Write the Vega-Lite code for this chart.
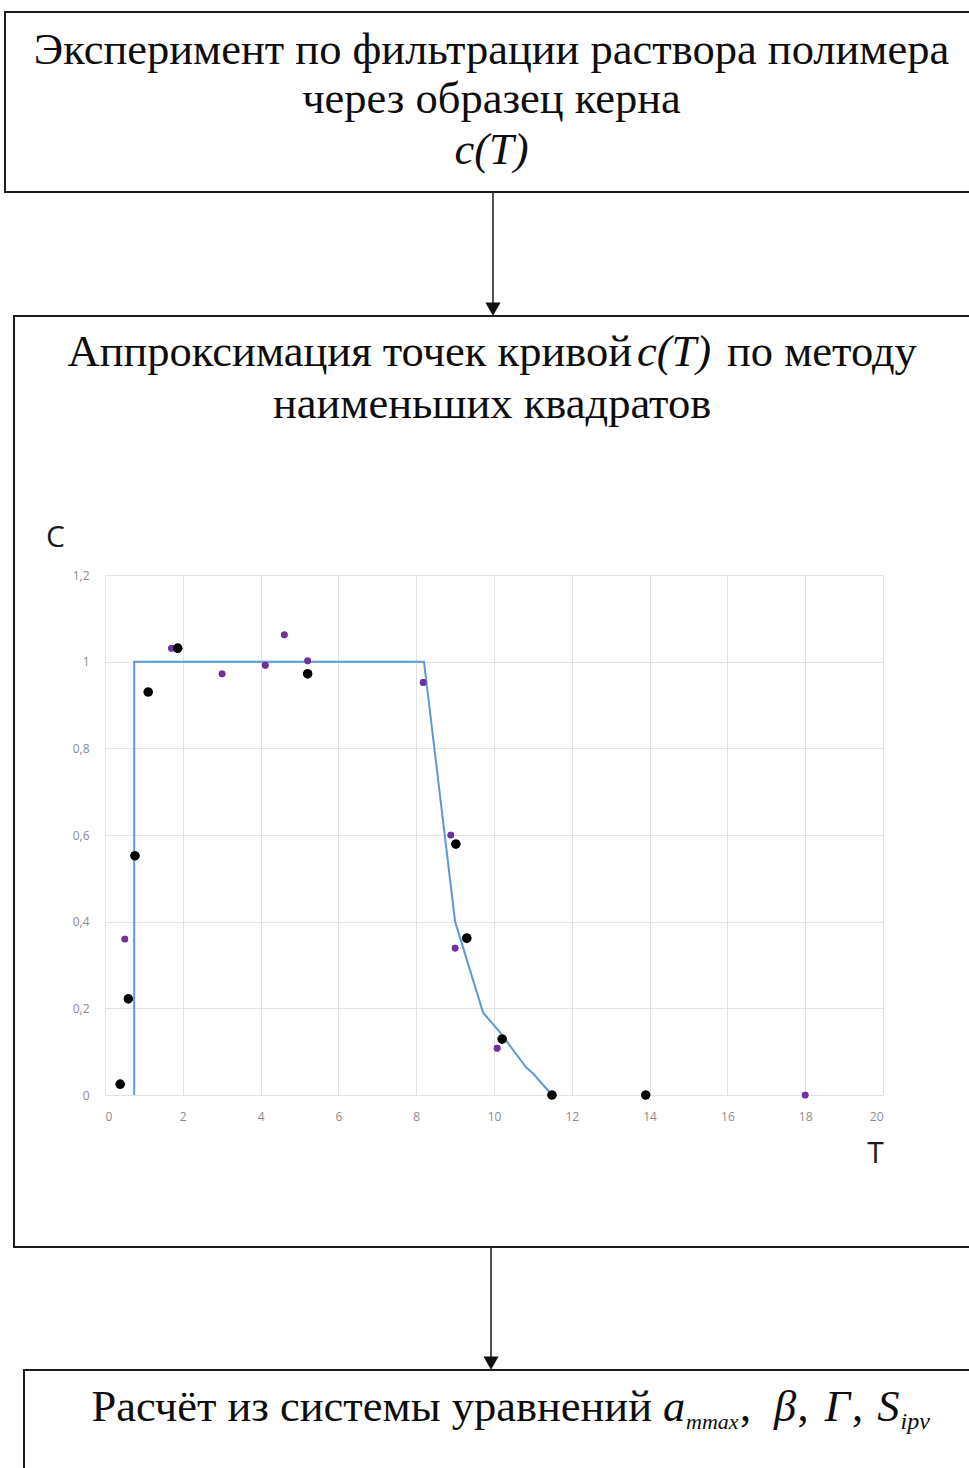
{
  "$schema": "https://vega.github.io/schema/vega-lite/v6.json",
  "width": 778,
  "height": 520,
  "autosize": {"type": "none"},
  "padding": {"left": 105, "top": 575, "right": 86, "bottom": 373},
  "background": "white",
  "config": {
    "view": {"stroke": null},
    "axis": {
      "grid": true,
      "gridColor": "#e3e3e3",
      "gridWidth": 1,
      "domain": false,
      "ticks": false,
      "labelFont": "Open Sans",
      "labelFontSize": 12,
      "labelColor": "#8c8c8c",
      "titleFont": "Open Sans",
      "titleFontWeight": "normal",
      "titleFontSize": 30,
      "titleColor": "#1a1a1a"
    },
    "text": {"font": "Liberation Serif", "fontSize": 44.5, "color": "#0d0d0d", "baseline": "alphabetic"}
  },
  "datasets": {
    "points": [
      {"T": 0.51, "C": 0.36, "series": "B"},
      {"T": 1.71, "C": 1.031, "series": "B"},
      {"T": 3.01, "C": 0.972, "series": "B"},
      {"T": 4.12, "C": 0.992, "series": "B"},
      {"T": 4.61, "C": 1.062, "series": "B"},
      {"T": 5.21, "C": 1.002, "series": "B"},
      {"T": 8.18, "C": 0.952, "series": "B"},
      {"T": 8.89, "C": 0.6, "series": "B"},
      {"T": 9.0, "C": 0.339, "series": "B"},
      {"T": 10.08, "C": 0.108, "series": "B"},
      {"T": 18.0, "C": 0, "series": "B"},
      {"T": 0.39, "C": 0.025, "series": "A"},
      {"T": 0.6, "C": 0.222, "series": "A"},
      {"T": 0.77, "C": 0.552, "series": "A"},
      {"T": 1.11, "C": 0.93, "series": "A"},
      {"T": 1.87, "C": 1.031, "series": "A"},
      {"T": 5.21, "C": 0.972, "series": "A"},
      {"T": 9.02, "C": 0.579, "series": "A"},
      {"T": 9.3, "C": 0.362, "series": "A"},
      {"T": 10.21, "C": 0.129, "series": "A"},
      {"T": 11.49, "C": 0, "series": "A"},
      {"T": 13.9, "C": 0, "series": "A"}
    ],
    "fit": [
      {"T": 0.75, "C": 0},
      {"T": 0.75, "C": 1.0},
      {"T": 8.2, "C": 1.0},
      {"T": 9.0, "C": 0.4},
      {"T": 9.72, "C": 0.19},
      {"T": 10.15, "C": 0.145},
      {"T": 10.84, "C": 0.062},
      {"T": 11.0, "C": 0.05},
      {"T": 11.49, "C": 0}
    ],
    "one": [{}]
  },
  "layer": [
    {
      "data": {"name": "points"},
      "mark": {"type": "point", "filled": true, "opacity": 1},
      "encoding": {
        "x": {
          "field": "T", "type": "quantitative",
          "scale": {"domain": [0, 20], "nice": false, "zero": false},
          "axis": {
            "values": [0, 2, 4, 6, 8, 10, 12, 14, 16, 18, 20],
            "title": "T",
            "labelPadding": 16,
            "titleX": 770, "titleY": 58,
            "titleAlign": "center", "titleBaseline": "middle", "titleAngle": 0
          }
        },
        "y": {
          "field": "C", "type": "quantitative",
          "scale": {"domain": [0, 1.2], "nice": false, "zero": false},
          "axis": {
            "values": [0, 0.2, 0.4, 0.6, 0.8, 1, 1.2],
            "labelExpr": "replace(format(datum.value, '~g'), '.', ',')",
            "title": "C",
            "labelPadding": 16,
            "titleAngle": 0,
            "titleX": -50, "titleY": -38,
            "titleAlign": "center", "titleBaseline": "middle"
          }
        },
        "color": {"field": "series", "type": "nominal", "scale": {"domain": ["A", "B"], "range": ["#000000", "#7030A0"]}, "legend": null},
        "size": {"field": "series", "type": "nominal", "scale": {"domain": ["A", "B"], "range": [85, 45]}, "legend": null}
      }
    },
    {
      "data": {"name": "fit"},
      "mark": {"type": "line", "color": "#5B9BD5", "strokeWidth": 2},
      "encoding": {
        "x": {"field": "T", "type": "quantitative"},
        "y": {"field": "C", "type": "quantitative"},
        "order": {"value": null}
      }
    },
    {
      "data": {"name": "points"},
      "transform": [{"filter": "datum.series === 'B'"}],
      "mark": {"type": "point", "filled": true, "opacity": 1, "color": "#7030A0", "size": 45},
      "encoding": {
        "x": {"field": "T", "type": "quantitative"},
        "y": {"field": "C", "type": "quantitative"}
      }
    },
    {
      "data": {"name": "points"},
      "transform": [{"filter": "datum.series === 'A'"}],
      "mark": {"type": "point", "filled": true, "opacity": 1, "color": "#000000", "size": 85},
      "encoding": {
        "x": {"field": "T", "type": "quantitative"},
        "y": {"field": "C", "type": "quantitative"}
      }
    },
    {
      "data": {"name": "one"},
      "mark": {"type": "rect", "filled": false, "color": "#1c1c1c", "strokeWidth": 2, "clip": false},
      "encoding": {
        "x": {"datum": -2.571, "type": "quantitative"}, "x2": {"datum": 22.6},
        "y": {"datum": 2.4993, "type": "quantitative"}, "y2": {"datum": 2.0839}
      }
    },
    {
      "data": {"name": "one"},
      "mark": {"type": "rect", "filled": false, "color": "#1c1c1c", "strokeWidth": 2, "clip": false},
      "encoding": {
        "x": {"datum": -2.339, "type": "quantitative"}, "x2": {"datum": 22.6},
        "y": {"datum": 1.7977, "type": "quantitative"}, "y2": {"datum": -0.3508}
      }
    },
    {
      "data": {"name": "one"},
      "mark": {"type": "rect", "filled": false, "color": "#1c1c1c", "strokeWidth": 2, "clip": false},
      "encoding": {
        "x": {"datum": -2.082, "type": "quantitative"}, "x2": {"datum": 22.6},
        "y": {"datum": -0.6346, "type": "quantitative"}, "y2": {"datum": -0.95}
      }
    },
    {
      "data": {"name": "one"},
      "mark": {"type": "rule", "color": "#2a2a2a", "strokeWidth": 1.6, "clip": false},
      "encoding": {
        "x": {"datum": 9.974, "type": "quantitative"},
        "y": {"datum": 2.0839, "type": "quantitative"}, "y2": {"datum": 1.8116}
      }
    },
    {
      "data": {"name": "one"},
      "mark": {"type": "rule", "color": "#2a2a2a", "strokeWidth": 1.6, "clip": false},
      "encoding": {
        "x": {"datum": 9.923, "type": "quantitative"},
        "y": {"datum": -0.3508, "type": "quantitative"}, "y2": {"datum": -0.6208}
      }
    },
    {
      "data": {"name": "one"},
      "mark": {"type": "point", "shape": "triangle-down", "filled": true, "opacity": 1, "color": "#111111", "size": 230, "clip": false},
      "encoding": {
        "x": {"datum": 9.974, "type": "quantitative"},
        "y": {"datum": 1.8137, "type": "quantitative"}
      }
    },
    {
      "data": {"name": "one"},
      "mark": {"type": "point", "shape": "triangle-down", "filled": true, "opacity": 1, "color": "#111111", "size": 230, "clip": false},
      "encoding": {
        "x": {"datum": 9.923, "type": "quantitative"},
        "y": {"datum": -0.6187, "type": "quantitative"}
      }
    },
    {
      "data": {"name": "one"},
      "mark": {"type": "text", "text": "Эксперимент по фильтрации раствора полимера", "align": "center", "clip": false},
      "encoding": {"x": {"datum": 9.936, "type": "quantitative"}, "y": {"datum": 2.3792, "type": "quantitative"}}
    },
    {
      "data": {"name": "one"},
      "mark": {"type": "text", "text": "через образец керна", "align": "center", "clip": false},
      "encoding": {"x": {"datum": 9.936, "type": "quantitative"}, "y": {"datum": 2.2662, "type": "quantitative"}}
    },
    {
      "data": {"name": "one"},
      "mark": {"type": "text", "text": "c(T)", "fontStyle": "italic", "align": "center", "clip": false},
      "encoding": {"x": {"datum": 9.936, "type": "quantitative"}, "y": {"datum": 2.1485, "type": "quantitative"}}
    },
    {
      "data": {"name": "one"},
      "mark": {"type": "text", "text": "Аппроксимация точек кривой", "align": "right", "clip": false},
      "encoding": {"x": {"datum": 13.548, "type": "quantitative"}, "y": {"datum": 1.6823, "type": "quantitative"}}
    },
    {
      "data": {"name": "one"},
      "mark": {"type": "text", "text": "c(T)", "fontStyle": "italic", "align": "left", "clip": false},
      "encoding": {"x": {"datum": 13.676, "type": "quantitative"}, "y": {"datum": 1.6823, "type": "quantitative"}}
    },
    {
      "data": {"name": "one"},
      "mark": {"type": "text", "text": "по методу", "align": "left", "clip": false},
      "encoding": {"x": {"datum": 15.99, "type": "quantitative"}, "y": {"datum": 1.6823, "type": "quantitative"}}
    },
    {
      "data": {"name": "one"},
      "mark": {"type": "text", "text": "наименьших квадратов", "align": "center", "clip": false},
      "encoding": {"x": {"datum": 9.949, "type": "quantitative"}, "y": {"datum": 1.5623, "type": "quantitative"}}
    },
    {
      "data": {"name": "one"},
      "mark": {"type": "text", "text": "Расчёт из системы уравнений", "align": "right", "clip": false},
      "encoding": {"x": {"datum": 14.062, "type": "quantitative"}, "y": {"datum": -0.7523, "type": "quantitative"}}
    },
    {
      "data": {"name": "one"},
      "mark": {"type": "text", "text": "a", "fontStyle": "italic", "align": "left", "clip": false},
      "encoding": {"x": {"datum": 14.344, "type": "quantitative"}, "y": {"datum": -0.7523, "type": "quantitative"}}
    },
    {
      "data": {"name": "one"},
      "mark": {"type": "text", "text": "mmax", "fontStyle": "italic", "fontSize": 22, "align": "left", "clip": false},
      "encoding": {"x": {"datum": 14.936, "type": "quantitative"}, "y": {"datum": -0.7708, "type": "quantitative"}}
    },
    {
      "data": {"name": "one"},
      "mark": {"type": "text", "text": ",", "align": "left", "clip": false},
      "encoding": {"x": {"datum": 16.324, "type": "quantitative"}, "y": {"datum": -0.7523, "type": "quantitative"}}
    },
    {
      "data": {"name": "one"},
      "mark": {"type": "text", "text": "β", "fontStyle": "italic", "align": "left", "clip": false},
      "encoding": {"x": {"datum": 17.2, "type": "quantitative"}, "y": {"datum": -0.7523, "type": "quantitative"}}
    },
    {
      "data": {"name": "one"},
      "mark": {"type": "text", "text": ",", "align": "left", "clip": false},
      "encoding": {"x": {"datum": 17.8, "type": "quantitative"}, "y": {"datum": -0.7523, "type": "quantitative"}}
    },
    {
      "data": {"name": "one"},
      "mark": {"type": "text", "text": "Γ", "fontStyle": "italic", "align": "left", "clip": false},
      "encoding": {"x": {"datum": 18.5, "type": "quantitative"}, "y": {"datum": -0.7523, "type": "quantitative"}}
    },
    {
      "data": {"name": "one"},
      "mark": {"type": "text", "text": ",", "align": "left", "clip": false},
      "encoding": {"x": {"datum": 19.2, "type": "quantitative"}, "y": {"datum": -0.7523, "type": "quantitative"}}
    },
    {
      "data": {"name": "one"},
      "mark": {"type": "text", "text": "S", "fontStyle": "italic", "align": "left", "clip": false},
      "encoding": {"x": {"datum": 19.85, "type": "quantitative"}, "y": {"datum": -0.7523, "type": "quantitative"}}
    },
    {
      "data": {"name": "one"},
      "mark": {"type": "text", "text": "ipv", "fontStyle": "italic", "fontSize": 24, "align": "left", "clip": false},
      "encoding": {"x": {"datum": 20.45, "type": "quantitative"}, "y": {"datum": -0.7708, "type": "quantitative"}}
    }
  ]
}
